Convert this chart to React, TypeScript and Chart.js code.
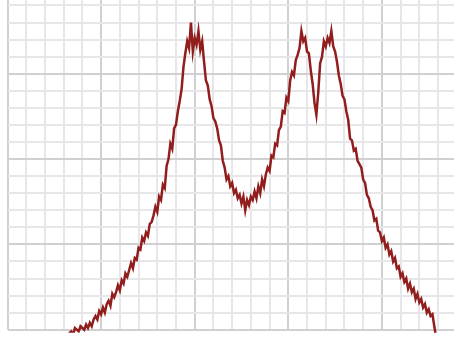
import React, { useEffect, useRef } from "react";
import { Chart, registerables } from "chart.js";

Chart.register(...registerables);

// x positions: start and step of the sampled signal (x axis 0..500)
const xStart = 64;
const xStep = 2;

// signal values (y axis 0..200), one every xStep
const signal = [
  -5, -2, -1, -3, 1, 0, -1, 2, 1, 0, 3, 1, 4, 2, 6, 8, 6, 11, 9,
  13, 10, 15, 17, 14, 21, 19, 22, 26, 23, 29, 27, 33, 31, 35, 39, 36, 42, 41, 48,
  47, 54, 52, 57, 55, 62, 63, 67, 72, 69, 78, 76, 85, 83, 96, 100, 109, 106, 118, 120,
  128, 134, 141, 154, 162, 169, 165, 180, 163, 171, 167, 175, 164, 169, 157, 146, 143, 135, 131, 124,
  122, 118, 111, 108, 99, 95, 88, 90, 84, 86, 80, 82, 77, 79, 74, 78, 70, 76, 73, 78,
  76, 81, 77, 84, 80, 88, 84, 91, 95, 93, 102, 101, 109, 108, 117, 119, 128, 127, 136, 134,
  146, 151, 149, 158, 161, 165, 175, 169, 171, 163, 162, 152, 144, 133, 126, 139, 156, 160, 169, 166,
  171, 168, 175, 166, 163, 157, 149, 144, 137, 135, 128, 123, 112, 111, 105, 106, 99, 97, 95, 88,
  86, 79, 77, 72, 70, 64, 65, 58, 57, 52, 54, 48, 50, 44, 46, 40, 42, 36, 37, 31,
  33, 28, 30, 24, 27, 22, 24, 18, 21, 16, 18, 13, 15, 10, 12, 8, 9, 2, -5,
];

// axis ranges and gridline steps
const xRange = [0, 500];
const yRange = [0, 200];
const xMinorStep = 20;
const xMajorStep = 100;
const yMinorStep = 10;
const yMajorStep = 50;

const MINOR = "#e7e7e9";
const MAJOR = "#d0d0d0";
const LINE = "#911d1d";

export default function App() {
  const ref = useRef<HTMLCanvasElement | null>(null);

  useEffect(() => {
    if (!ref.current) return;
    const points = signal.map((v, i) => ({ x: xStart + i * xStep, y: v }));
    const chart = new Chart(ref.current, {
      type: "line",
      data: {
        datasets: [
          {
            data: points,
            borderColor: LINE,
            borderWidth: 2.5,
            pointRadius: 0,
            tension: 0,
            fill: false,
            clip: { left: 4, top: 4, right: 4, bottom: 3 } as any,
          },
        ],
      },
      options: {
        animation: false,
        responsive: false,
        maintainAspectRatio: false,
        events: [],
        layout: { padding: { left: 7.5, top: 8.4, right: 14.5, bottom: 10.3 } },
        plugins: { legend: { display: false }, tooltip: { enabled: false } },
        scales: {
          x: {
            type: "linear",
            min: xRange[0],
            max: xRange[1],
            ticks: { display: false, stepSize: xMinorStep },
            border: { display: false },
            grid: {
              drawTicks: false,
              lineWidth: 2,
              color: (c: any) => (c.tick && c.tick.value % xMajorStep === 0 ? MAJOR : MINOR),
            },
          },
          y: {
            type: "linear",
            min: yRange[0],
            max: yRange[1],
            ticks: { display: false, stepSize: yMinorStep },
            border: { display: false },
            grid: {
              drawTicks: false,
              lineWidth: 2,
              color: (c: any) => (c.tick && c.tick.value % yMajorStep === 0 ? MAJOR : MINOR),
            },
          },
        },
      },
    });
    return () => chart.destroy();
  }, []);

  return (
    <div
      style={{
        position: "fixed",
        left: 0,
        top: 0,
        width: 454,
        height: 338,
        overflow: "hidden",
        background: "#ffffff",
      }}
    >
      <canvas
        ref={ref}
        width={490}
        height={360}
        style={{ position: "absolute", left: 0, top: -20, width: 490, height: 360, display: "block" }}
      />
    </div>
  );
}
